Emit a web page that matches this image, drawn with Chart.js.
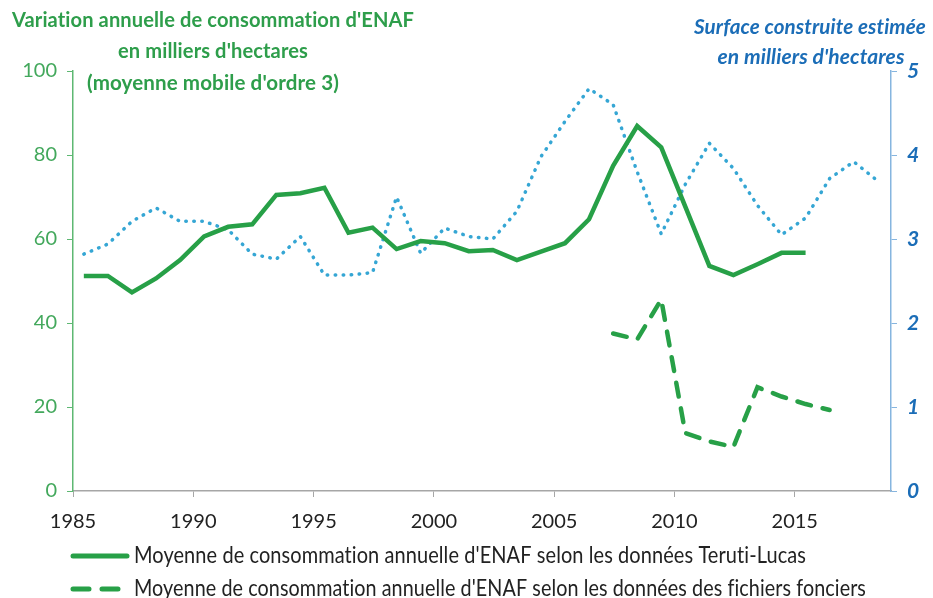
<!DOCTYPE html>
<html lang="fr">
<head>
<meta charset="UTF-8">
<title>Consommation d'ENAF</title>
<script src="https://cdn.jsdelivr.net/npm/chart.js@4.4.0/dist/chart.umd.min.js"></script>
<style>
  html, body { margin: 0; padding: 0; background: #fff; }
  #wrap { position: relative; width: 933px; height: 598px; }
</style>
</head>
<body>
<div id="wrap"><canvas id="myChart" width="933" height="598"></canvas></div>

<script>
// données (moyennes mobiles d'ordre 3)
const yearsTeruti = [1985, 1986, 1987, 1988, 1989, 1990, 1991, 1992, 1993, 1994, 1995, 1996, 1997, 1998, 1999,
  2000, 2001, 2002, 2003, 2004, 2005, 2006, 2007, 2008, 2009, 2010, 2011, 2012, 2013, 2014, 2015]
const teruti = [51.2, 51.2, 47.3, 50.6, 55.0, 60.6, 62.9, 63.5, 70.5, 70.9, 72.2, 61.5, 62.7, 57.6, 59.5,
  59.0, 57.1, 57.4, 55.0, 57.0, 59.0, 64.7, 77.4, 86.9, 81.8, 67.7, 53.6, 51.4, 54.0, 56.7, 56.7]

const yearsFonciers = [2007, 2008, 2009, 2010, 2011, 2012, 2013, 2014, 2015, 2016]
const fonciers = [37.5, 36.1, 45.6, 13.8, 11.8, 10.5, 24.7, 22.5, 20.7, 19.3]

const yearsSurface = [1985, 1986, 1987, 1988, 1989, 1990, 1991, 1992, 1993, 1994, 1995, 1996, 1997, 1998, 1999,
  2000, 2001, 2002, 2003, 2004, 2005, 2006, 2007, 2008, 2009, 2010, 2011, 2012, 2013, 2014, 2015, 2016, 2017, 2018]
const surface = [2.82, 2.94, 3.21, 3.37, 3.21, 3.21, 3.11, 2.82, 2.76, 3.03, 2.57, 2.57, 2.60, 3.50, 2.83,
  3.13, 3.03, 3.00, 3.33, 3.98, 4.40, 4.79, 4.60, 3.80, 3.06, 3.65, 4.14, 3.84, 3.40, 3.05, 3.25, 3.72, 3.92, 3.69]

const leftTicks = [0, 20, 40, 60, 80, 100]
const rightTicks = [0, 1, 2, 3, 4, 5]
const xTicks = [1985, 1990, 1995, 2000, 2005, 2010, 2015]

const leftTitle = ["Variation annuelle de consommation d'ENAF", "en milliers d'hectares", "(moyenne mobile d'ordre 3)"]
const rightTitle = ["Surface construite estimée", "en milliers d'hectares"]

const GREEN = '#27a047'
const BLUE_DOT = '#35a6d4'
const BLUE_TXT = '#1b6db7'

// les points sont au milieu de l'année
const pts = (xs, ys) => xs.map((x, i) => ({ x: x + 0.45, y: ys[i] }))

// texte resserré à une largeur donnée (police type Calibri)
function fitText(ctx, txt, x, y, w, align) {
  ctx.letterSpacing = '0.1px' // pas de ligatures "ti"
  const m = ctx.measureText(txt).width
  const s = Math.min(1, w / m)
  ctx.save()
  let x0 = x
  if (align === 'center') x0 = x - m * s / 2
  ctx.translate(x0, y)
  ctx.scale(s, 1)
  ctx.textAlign = 'left'
  ctx.fillText(txt, 0, 0)
  ctx.restore()
}

const extras = {
  id: 'extras',
  afterDraw(chart) {
    const ctx = chart.ctx
    ctx.save()
    ctx.textBaseline = 'middle'
    // titre gauche
    ctx.fillStyle = '#2e9e4b'
    ctx.font = 'bold 21px Lato'
    fitText(ctx, leftTitle[0], 213, 20, 402, 'center')
    fitText(ctx, leftTitle[1], 213, 51, 190, 'center')
    fitText(ctx, leftTitle[2], 213, 83, 252, 'center')
    // titre droit
    ctx.fillStyle = BLUE_TXT
    ctx.font = 'italic bold 21px Lato'
    fitText(ctx, rightTitle[0], 810, 27, 232, 'center')
    fitText(ctx, rightTitle[1], 811, 57, 188, 'center')

    // légende (sans la série pointillée)
    const items = [
      { ds: chart.data.datasets[0], y: 556, w: 672 },
      { ds: chart.data.datasets[1], y: 589, w: 732 }
    ]
    ctx.font = '23px Lato'
    items.forEach(it => {
      ctx.strokeStyle = it.ds.borderColor
      ctx.lineWidth = 5
      ctx.lineCap = 'round'
      ctx.setLineDash(it.ds.borderDash ? [16, 13] : [])
      ctx.beginPath()
      ctx.moveTo(73, it.y)
      ctx.lineTo(127, it.y)
      ctx.stroke()
      ctx.setLineDash([])
      ctx.fillStyle = '#222'
      fitText(ctx, it.ds.label, 134, it.y, it.w, 'left')
    })
    ctx.restore()
  }
}

const ctx = document.getElementById('myChart').getContext('2d')
const myChart = new Chart(ctx, {
  type: 'line',
  data: {
    datasets: [{
      label: "Moyenne de consommation annuelle d'ENAF selon les données Teruti-Lucas",
      data: pts(yearsTeruti, teruti),
      yAxisID: 'y',
      borderColor: GREEN,
      borderWidth: 4.5,
      pointRadius: 0,
      tension: 0
    }, {
      label: "Moyenne de consommation annuelle d'ENAF selon les données des fichiers fonciers",
      data: pts(yearsFonciers, fonciers),
      yAxisID: 'y',
      borderColor: GREEN,
      borderWidth: 4.5,
      borderDash: [14, 12],
      borderCapStyle: 'round',
      pointRadius: 0,
      tension: 0
    }, {
      label: 'Surface construite estimée',
      data: pts(yearsSurface, surface),
      yAxisID: 'y2',
      borderColor: BLUE_DOT,
      borderWidth: 3.5,
      borderDash: [0.5, 7.5],
      borderCapStyle: 'round',
      pointRadius: 0,
      tension: 0
    }]
  },
  options: {
    responsive: false,
    animation: false,
    layout: { padding: { left: 0, right: 0, top: 71, bottom: 62 } },
    plugins: { legend: { display: false }, tooltip: { enabled: false } },
    scales: {
      x: {
        type: 'linear',
        min: 1985,
        max: 2019,
        afterFit: s => { s.height = 45 },
        afterBuildTicks: s => { s.ticks = xTicks.map(v => ({ value: v })) },
        ticks: {
          color: '#222', font: { family: 'Lato', size: 20 }, padding: 13, maxRotation: 0,
          callback: v => String(v)
        },
        grid: { drawOnChartArea: false, drawTicks: true, tickLength: 6, color: '#a6a6a6' },
        border: { display: true, color: '#a6a6a6', width: 1.5 }
      },
      y: {
        position: 'left',
        min: 0,
        max: 100,
        afterFit: s => { s.width = 73 },
        afterBuildTicks: s => { s.ticks = leftTicks.map(v => ({ value: v })) },
        ticks: { color: '#43a85c', font: { family: 'Lato', size: 20 }, padding: 10 },
        grid: { drawOnChartArea: false, drawTicks: true, tickLength: 6, color: '#5eb872' },
        border: { display: true, color: '#5eb872', width: 1.5 }
      },
      y2: {
        position: 'right',
        min: 0,
        max: 5,
        afterFit: s => { s.width = 42 },
        afterBuildTicks: s => { s.ticks = rightTicks.map(v => ({ value: v })) },
        ticks: { color: BLUE_TXT, font: { family: 'Lato', size: 21, style: 'italic', weight: 'bold' }, padding: 10 },
        grid: { drawOnChartArea: false, drawTicks: true, tickLength: 6, color: '#86b5df' },
        border: { display: true, color: '#86b5df', width: 1.5 }
      }
    }
  },
  plugins: [extras]
})
</script>
</body>
</html>
